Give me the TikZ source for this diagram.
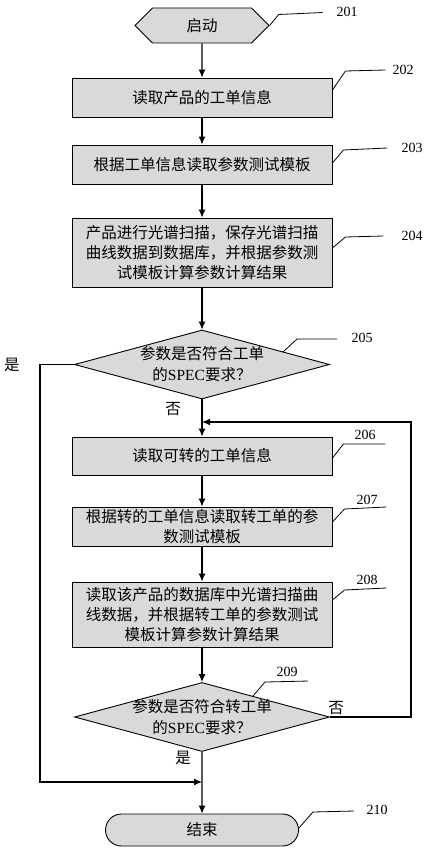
\documentclass[tikz,border=0pt]{standalone}
\usepackage{fontspec}
\setmainfont{Liberation Serif}
\newfontfamily\cjk{Noto Sans CJK SC}
\usetikzlibrary{shapes.geometric,shapes.misc,shapes.symbols,arrows.meta}
\definecolor{boxgray}{HTML}{D9D9D9}
\tikzset{
  proc/.style={draw, fill=boxgray, line width=0.9pt, minimum width=260, minimum height=39,
    inner sep=0pt, align=center, font=\cjk\fontsize{15.5}{20}\selectfont},
  decision/.style={draw, fill=boxgray, line width=0.9pt, diamond, minimum width=255,
    minimum height=69, inner sep=0pt},
  words/.style={align=center, inner sep=0pt, font=\cjk\fontsize{15.5}{21}\selectfont},
  tag/.style={inner sep=1pt, font=\fontsize{14}{14}\selectfont},
  leader/.style={line width=0.8pt},
  flow/.style={line width=1.1pt, -{Latex[length=8pt,width=7pt]}},
}
\begin{document}
\begin{tikzpicture}[x=1pt,y=-1pt]
                \useasboundingbox (0,0) rectangle (429,848);

                % start and end
                \node[draw, fill=boxgray, line width=0.9pt, signal, signal to=east and west,
                  signal pointer angle=90, minimum width=134, minimum height=35, inner sep=0pt,
                  font=\cjk\fontsize{15.5}{20}\selectfont] (start) at (202,25.5) {启动};
                \node[draw, fill=boxgray, line width=0.9pt, rounded rectangle, minimum width=193,
                  minimum height=32, inner sep=0pt, font=\cjk\fontsize{15.5}{20}\selectfont]
                  (end) at (202,830) {结束};

                % steps
                \node[proc] (b202) at (202,97.5) {读取产品的工单信息};
                \node[proc] (b203) at (202,164.5) {根据工单信息读取参数测试模板};
                \node[proc, minimum height=69] (b204) at (202,252.5)
                  {产品进行光谱扫描，保存光谱扫描\\曲线数据到数据库，并根据参数测\\试模板计算参数计算结果};
                \node[decision] (d205) at (202,364.5) {};
                \node[words] (t205) at (d205) {参数是否符合工单\\的{\rmfamily SPEC}要求？};
                \node[proc, minimum height=38] (b206) at (202,456) {读取可转的工单信息};
                \node[proc] (b207) at (202,526.5) {根据转的工单信息读取转工单的参\\数测试模板};
                \node[proc, minimum height=65] (b208) at (202,614.5)
                  {读取该产品的数据库中光谱扫描曲\\线数据，并根据转工单的参数测试\\模板计算参数计算结果};
                \node[decision] (d209) at (202,717) {};
                \node[words] (t209) at (d209) {参数是否符合转工单\\的{\rmfamily SPEC}要求？};

                \coordinate (back) at (202,422);
                \coordinate (join) at (202,782);

                % flow
                \draw[flow] (start) -- (b202);
                \draw[flow] (b202) -- (b203);
                \draw[flow] (b203) -- (b204);
                \draw[flow] (b204) -- (d205.north);
                \draw[flow] (d205.south) -- (b206);
                \draw[flow] (b206) -- (b207);
                \draw[flow] (b207) -- (b208);
                \draw[flow] (b208) -- (d209.north);
                \draw[flow] (d209.south) -- (end);
                \draw[flow] (d205.west) -| (40,782) -- (join);
                \draw[flow] (d209.east) -| (411,422) -- (back);

                \node[words] (yes1) at (12,365) {是};
                \node[words] (no1) at (173,409) {否};
                \node[words] (no2) at (336,708) {否};
                \node[words] (yes2) at (183,758) {是};

                % step numbers
                \draw[leader] (start.east) -- ++(9,-11) -- ++(44,-2);
                \node[tag] (l201) at (347,12) {201};
                \draw[leader] ([yshift=7.5]b202.east) -- ++(13,-19) -- ++(40,-1);
                \node[tag] (l202) at (403,70) {202};
                \draw[leader] ([yshift=1.5]b203.east) -- ++(11,-13) -- ++(44,-2);
                \node[tag] (l203) at (412,148) {203};
                \draw[leader] ([yshift=4.5]b204.east) -- ++(13,-11) -- ++(38,-1);
                \node[tag] (l204) at (412,236) {204};
                \draw[leader] ([shift={(17,5)}]d205.north east) -- ++(14,-13) -- ++(40,0);
                \node[tag] (l205) at (362,338) {205};
                \draw[leader] ([yshift=-2]b206.east) -- ++(11,-14) -- ++(42,0);
                \node[tag] (l206) at (365,435) {206};
                \draw[leader] ([yshift=4.5]b207.east) -- ++(12,-13) -- ++(42,-2);
                \node[tag] (l207) at (367,500) {207};
                \draw[leader] ([yshift=14.5]b208.east) -- ++(12,-10) -- ++(42,-2);
                \node[tag] (l208) at (367,580) {208};
                \draw[leader] ([shift={(-13,-3.5)}]d209.north east) -- ++(12,-14) -- ++(43,-1);
                \node[tag] (l209) at (287,672) {209};
                \draw[leader] ([yshift=2]end.east) -- ++(14,-16) -- ++(41,-1);
                \node[tag] (l210) at (377,810) {210};
            \end{tikzpicture}
\end{document}
